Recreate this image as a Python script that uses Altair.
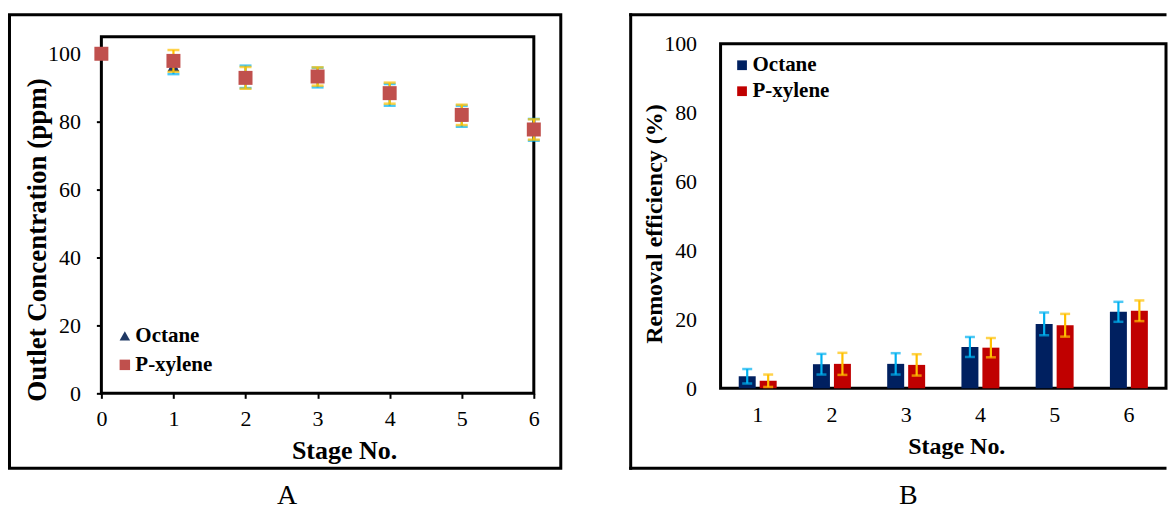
import altair as alt
import pandas as pd

# ---------------- data ----------------
series_names = ["Octane", "P-xylene"]

# Panel A: outlet concentration (ppm)
stages_a = [0, 1, 2, 3, 4, 5, 6]
octane_conc = [100.0, 96.3, 93.2, 93.0, 87.9, 81.6, 77.6]
octane_conc_err = [1.5, 2.3, 3.3, 2.9, 3.2, 3.1, 3.2]
pxylene_conc = [100.0, 97.9, 92.9, 93.3, 88.4, 82.0, 77.7]
pxylene_conc_err = [1.0, 3.2, 3.2, 2.7, 3.1, 3.0, 3.0]

# Panel B: removal efficiency (%)
stages_b = ["1", "2", "3", "4", "5", "6"]
octane_eff = [3.5, 7.0, 7.1, 12.0, 18.7, 22.2]
octane_eff_err = [2.1, 3.0, 3.1, 2.9, 3.3, 2.9]
pxylene_eff = [2.2, 7.1, 6.8, 11.8, 18.3, 22.5]
pxylene_eff_err = [1.8, 3.2, 3.1, 2.8, 3.3, 3.0]

y_ticks = [0, 20, 40, 60, 80, 100]

FONT = "Liberation Serif"
NAVY = "#002060"
BLUE_ERR = "#00B0F0"
GOLD_ERR = "#FFC000"

df_a = pd.DataFrame({
    "stage": stages_a + stages_a,
    "series": [series_names[0]] * len(stages_a) + [series_names[1]] * len(stages_a),
    "value": octane_conc + pxylene_conc,
    "err": octane_conc_err + pxylene_conc_err,
})
df_a["lo"] = df_a["value"] - df_a["err"]
df_a["hi"] = df_a["value"] + df_a["err"]

df_b = pd.DataFrame({
    "stage": stages_b + stages_b,
    "series": [series_names[0]] * len(stages_b) + [series_names[1]] * len(stages_b),
    "value": octane_eff + pxylene_eff,
    "err": octane_eff_err + pxylene_eff_err,
})
df_b["lo"] = df_b["value"] - df_b["err"]
df_b["hi"] = df_b["value"] + df_b["err"]

one = alt.Data(values=[{}])

# ---------------- panel A ----------------
WA, HA = 433, 357

xa = alt.X("stage:Q", scale=alt.Scale(domain=[0, 6], nice=False, zero=False),
           axis=alt.Axis(values=stages_a, format="d", labelAngle=0, labelFlush=False,
                         tickSize=5, tickWidth=2, tickColor="black", domain=False, grid=False,
                         labelFontSize=22, labelPadding=10, title="Stage No.", titleFontSize=26,
                         titleX=243, titleY=57, titleBaseline="middle", titleAlign="center"))
ya_scale = alt.Scale(domain=[0, 105], nice=False)
ya_axis = alt.Axis(values=y_ticks, labelFlush=False, tickSize=5, tickWidth=2, tickColor="black",
                   domain=False, grid=False, labelFontSize=22, labelPadding=16,
                   title="Outlet Concentration (ppm)", titleFontSize=27, titleX=-64, titleY=203,
                   titleAngle=270, titleBaseline="middle", titleAlign="center")

legend_a = alt.Legend(orient="none", legendX=13, legendY=289, title=None, labelFont=FONT,
                      labelFontSize=21, labelFontWeight="bold", labelColor="black",
                      symbolSize=110, labelOffset=0, rowPadding=7, padding=0,
                      symbolStrokeWidth=0)
color_a = alt.Color("series:N", scale=alt.Scale(domain=series_names, range=["#1F3864", "#C0504D"]),
                    legend=legend_a)
shape_a = alt.Shape("series:N", scale=alt.Scale(domain=series_names, range=["triangle-up", "square"]),
                    legend=legend_a)

base_a = alt.Chart(df_a)


def err_layers(base, name, color, x, xoff=None, cap=12):
    enc_r = dict(x=x, y=alt.Y("lo:Q"), y2="hi:Q")
    enc_t = dict(x=x, y=alt.Y("v:Q"))
    if xoff is not None:
        enc_r["xOffset"] = xoff
        enc_t["xOffset"] = xoff
    rule = base.transform_filter(alt.datum.series == name).mark_rule(
        color=color, strokeWidth=2.2).encode(**enc_r)
    caps = base.transform_filter(alt.datum.series == name).transform_fold(
        ["lo", "hi"], as_=["k", "v"]).mark_tick(
        color=color, orient="horizontal", size=cap, thickness=2.5).encode(**enc_t)
    return [rule, caps]


frame_outer_a = alt.Chart(one).mark_rect(fillOpacity=0, stroke="black", strokeWidth=3).encode(
    x=alt.value(-92), x2=alt.value(460), y=alt.value(-22), y2=alt.value(432))
frame_plot_a = alt.Chart(one).mark_rect(fillOpacity=0, stroke="black", strokeWidth=3).encode(
    x=alt.value(0), x2=alt.value(WA), y=alt.value(0), y2=alt.value(HA))
label_a = alt.Chart(one).mark_text(text="A", font=FONT, fontSize=28, color="black",
                                   baseline="middle", align="center").encode(
    x=alt.value(186), y=alt.value(460))

oct_err_a = err_layers(base_a, "Octane", BLUE_ERR, xa)
px_err_a = err_layers(base_a, "P-xylene", GOLD_ERR, xa)

oct_pts = base_a.transform_filter(alt.datum.series == "Octane").mark_point(
    filled=True, size=130, opacity=1).encode(
    x=xa, y=alt.Y("value:Q", scale=ya_scale, axis=ya_axis), color=color_a, shape=shape_a)
px_pts = base_a.transform_filter(alt.datum.series == "P-xylene").mark_point(
    filled=True, size=196, opacity=1).encode(
    x=xa, y=alt.Y("value:Q"), color=color_a, shape=shape_a)

chart_a = alt.layer(
    frame_outer_a, frame_plot_a, oct_pts, *oct_err_a, oct_pts, *px_err_a, px_pts, label_a
).properties(width=WA, height=HA)

# ---------------- panel B ----------------
WB, HB = 446, 352

xb = alt.X("stage:N", sort=stages_b, scale=alt.Scale(paddingInner=0, paddingOuter=0),
           axis=alt.Axis(labelAngle=0, ticks=False, tickSize=0, domain=False, grid=False,
                         labelFontSize=22, labelPadding=16, title="Stage No.", titleFontSize=24,
                         titleX=236, titleY=58, titleBaseline="middle", titleAlign="center"))
xoff_b = alt.XOffset("series:N", scale=alt.Scale(domain=series_names, paddingInner=0.19,
                                                  paddingOuter=0.865))
yb_scale = alt.Scale(domain=[0, 102], nice=False)
yb_axis = alt.Axis(values=y_ticks, labelFlush=False, ticks=False, tickSize=0, domain=False,
                   grid=False, labelFontSize=22, labelPadding=24, title="Removal efficiency (%)",
                   titleFontSize=24, titleX=-66, titleY=187, titleAngle=270,
                   titleBaseline="middle", titleAlign="center")
legend_b = alt.Legend(orient="none", legendX=11, legendY=18, title=None, labelFont=FONT,
                      labelFontSize=21, labelFontWeight="bold", labelColor="black",
                      symbolSize=95, symbolType="square", labelOffset=0, rowPadding=4,
                      padding=0, symbolStrokeWidth=0)

base_b = alt.Chart(df_b)
bars = base_b.mark_bar().encode(
    x=xb, xOffset=xoff_b,
    y=alt.Y("value:Q", scale=yb_scale, axis=yb_axis),
    color=alt.Color("series:N", scale=alt.Scale(domain=series_names, range=[NAVY, "#C00000"]),
                    legend=legend_b))
oct_err_b = err_layers(base_b, "Octane", BLUE_ERR, xb, xoff_b, cap=10)
px_err_b = err_layers(base_b, "P-xylene", GOLD_ERR, xb, xoff_b, cap=10)

frame_plot_b = alt.Chart(one).mark_rect(fillOpacity=0, stroke="black", strokeWidth=3).encode(
    x=alt.value(0), x2=alt.value(WB), y=alt.value(7), y2=alt.value(HB))
rule_kw = dict(color="black", strokeWidth=3, strokeCap="square")
outer_top_b = alt.Chart(one).mark_rule(**rule_kw).encode(
    x=alt.value(-90), x2=alt.value(445), y=alt.value(-22))
outer_bot_b = alt.Chart(one).mark_rule(**rule_kw).encode(
    x=alt.value(-90), x2=alt.value(445), y=alt.value(432))
outer_left_b = alt.Chart(one).mark_rule(**rule_kw).encode(
    x=alt.value(-90), y=alt.value(-22), y2=alt.value(432))
label_b = alt.Chart(one).mark_text(text="B", font=FONT, fontSize=28, color="black",
                                   baseline="middle", align="center").encode(
    x=alt.value(188), y=alt.value(460))

chart_b = alt.layer(
    outer_top_b, outer_bot_b, outer_left_b, frame_plot_b, bars, *oct_err_b, *px_err_b, label_b
).properties(width=WB, height=HB)

chart = alt.hconcat(chart_a, chart_b, spacing=65).resolve_scale(
    color="independent", shape="independent"
).resolve_legend(color="independent", shape="independent").properties(
    padding={"left": 7.5, "top": 11.5, "right": 0, "bottom": 0}
).configure_view(strokeWidth=0).configure_axis(
    labelFont=FONT, titleFont=FONT, labelColor="black", titleColor="black",
    titleFontWeight="bold"
).configure_text(font=FONT)

chart.save("out.html", embed_options={"renderer": "svg", "actions": False})
